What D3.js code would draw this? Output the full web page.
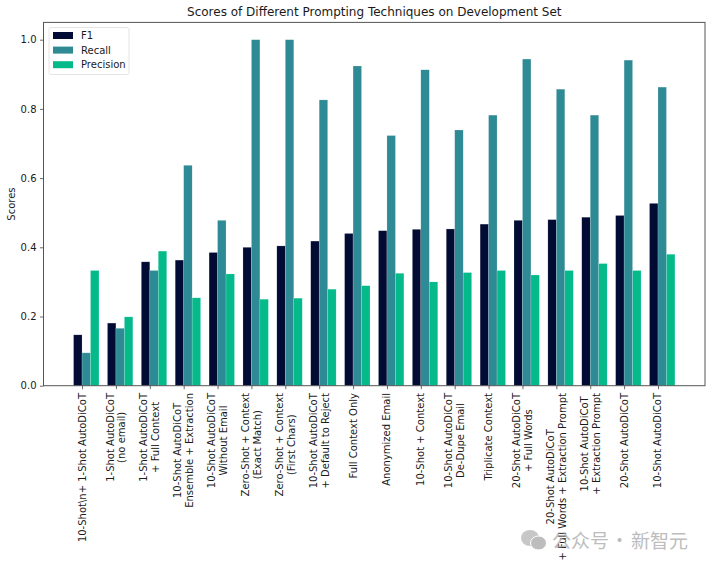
<!DOCTYPE html>
<html>
<head>
<meta charset="utf-8">
<script src="https://cdn.jsdelivr.net/npm/d3@7"></script>
<style>
    html, body { margin: 0; padding: 0; background: #fff; }
    svg { display: block; }
    text { font-family: "DejaVu Sans", sans-serif; fill: #1a1a1a; }
</style>
</head>
<body>
<div id="chart"></div>
<script>
// values
const categories = [
    "10-Shot\\n+ 1-Shot AutoDiCoT",
    "1-Shot AutoDiCoT\n(no email)",
    "1-Shot AutoDiCoT\n+ Full Context",
    "10-Shot AutoDiCoT\nEnsemble + Extraction",
    "10-Shot AutoDiCoT\nWithout Email",
    "Zero-Shot + Context\n(Exact Match)",
    "Zero-Shot + Context\n(First Chars)",
    "10-Shot AutoDiCoT\n+ Default to Reject",
    "Full Context Only",
    "Anonymized Email",
    "10-Shot + Context",
    "10-Shot AutoDiCoT\nDe-Dupe Email",
    "Triplicate Context",
    "20-Shot AutoDiCoT\n+ Full Words",
    "20-Shot AutoDiCoT\n+ Full Words + Extraction Prompt",
    "10-Shot AutoDiCoT\n+ Extraction Prompt",
    "20-Shot AutoDiCoT",
    "10-Shot AutoDiCoT"
];
const f1 = [0.147, 0.181, 0.358, 0.363, 0.385, 0.400, 0.404, 0.418, 0.440, 0.448, 0.452, 0.453, 0.467, 0.478, 0.480, 0.487, 0.492, 0.527];
const recall = [0.095, 0.166, 0.333, 0.637, 0.478, 1.000, 1.000, 0.826, 0.924, 0.723, 0.913, 0.739, 0.782, 0.944, 0.857, 0.782, 0.941, 0.863];
const precision = [0.333, 0.199, 0.389, 0.254, 0.323, 0.250, 0.253, 0.279, 0.289, 0.325, 0.300, 0.327, 0.333, 0.320, 0.333, 0.353, 0.333, 0.380];
const yTicks = [0, 0.2, 0.4, 0.6, 0.8, 1.0];
const seriesNames = ["F1", "Recall", "Precision"];
const seriesColors = ["#010b33", "#2e8a94", "#04ba8b"];
const seriesValues = [f1, recall, precision];

const width = 712, height = 568;
const margin = { top: 22.4, right: 7, bottom: 182.3, left: 43.5 };
const barWidth = 0.25;
const fontSize = "10px";

const svg = d3.select("#chart")
    .append("svg")
    .attr("width", width)
    .attr("height", height);

const x = d3.scaleLinear()
    .domain([-1.1375, 18.3875])
    .range([margin.left, width - margin.right]);

const y = d3.scaleLinear()
    .domain([0, 1.05])
    .range([height - margin.bottom, margin.top]);

// bars, each group starts one bar to the left of its tick
seriesValues.forEach((values, s) => {
    svg.append("g")
        .selectAll("rect")
        .data(values)
        .join("rect")
        .attr("x", (d, i) => x(i + (s - 1) * barWidth))
        .attr("width", x(barWidth) - x(0))
        .attr("y", d => y(d))
        .attr("height", d => y(0) - y(d))
        .attr("fill", seriesColors[s])
        .attr("stroke", "#ffffff")
        .attr("stroke-opacity", 0.35)
        .attr("stroke-width", 0.5);
});

// frame
svg.append("rect")
    .attr("x", margin.left)
    .attr("y", margin.top)
    .attr("width", width - margin.left - margin.right)
    .attr("height", height - margin.top - margin.bottom)
    .attr("fill", "none")
    .attr("stroke", "#555555")
    .attr("stroke-width", 1);

// axes
const yAxis = svg.append("g")
    .attr("transform", `translate(${margin.left},0)`)
    .call(d3.axisLeft(y).tickValues(yTicks).tickFormat(d3.format(".1f")).tickSize(3.5).tickPadding(3.5));
yAxis.select(".domain").remove();
yAxis.selectAll("line").attr("stroke", "#444444").attr("stroke-width", 0.8);
yAxis.selectAll("text").style("font-size", fontSize).style("font-family", '"DejaVu Sans"').attr("fill", "#1a1a1a");

const xAxis = svg.append("g")
    .attr("transform", `translate(0,${height - margin.bottom})`)
    .call(d3.axisBottom(x).tickValues(d3.range(categories.length)).tickFormat("").tickSize(3.5));
xAxis.select(".domain").remove();
xAxis.selectAll("line").attr("stroke", "#444444").attr("stroke-width", 0.8);

// x labels: rotated, lines centred on each other, block starts just under the axis
const lineStep = 11.7;
const labelTop = height - margin.bottom + 7.3;
categories.forEach((label, i) => {
    const lines = label.split("\n");
    const g = svg.append("g");
    const texts = lines.map((line, k) => g.append("text")
        .attr("text-anchor", "middle")
        .attr("dy", "0.35em")
        .attr("y", (k - (lines.length - 1) / 2) * lineStep)
        .style("font-size", fontSize)
        .text(line));
    const longest = d3.max(texts, t => t.node().getComputedTextLength());
    g.attr("transform", `translate(${x(i)},${labelTop + longest / 2}) rotate(-90)`);
});

// title and y label
svg.append("text")
    .attr("x", (margin.left + width - margin.right) / 2)
    .attr("y", 16)
    .attr("text-anchor", "middle")
    .style("font-size", "12px")
    .text("Scores of Different Prompting Techniques on Development Set");

svg.append("text")
    .attr("transform", `translate(15,${(margin.top + height - margin.bottom) / 2}) rotate(-90)`)
    .attr("text-anchor", "middle")
    .style("font-size", fontSize)
    .text("Scores");

// legend
const legend = svg.append("g").attr("transform", "translate(49,27.5)");
legend.append("rect")
    .attr("width", 80)
    .attr("height", 47)
    .attr("rx", 2)
    .attr("fill", "#ffffff")
    .attr("stroke", "#dddddd")
    .attr("stroke-width", 0.8);
seriesNames.forEach((name, i) => {
    legend.append("rect")
        .attr("x", 4)
        .attr("y", 4.5 + i * 14.6)
        .attr("width", 20)
        .attr("height", 7)
        .attr("fill", seriesColors[i]);
    legend.append("text")
        .attr("x", 32)
        .attr("y", 11.5 + i * 14.6)
        .style("font-size", fontSize)
        .text(name);
});

// watermark
const mark = svg.append("g").attr("opacity", 0.75);
mark.append("ellipse").attr("cx", 530).attr("cy", 538).attr("rx", 9).attr("ry", 8).attr("fill", "#b5b5b5");
mark.append("ellipse").attr("cx", 538.5).attr("cy", 543).attr("rx", 8).attr("ry", 7).attr("fill", "#a8a8a8").attr("stroke", "#ffffff").attr("stroke-width", 1);
const markText = mark.append("text")
    .attr("y", 548)
    .style("font-family", '"Noto Sans CJK SC"')
    .style("font-size", "19px")
    .style("fill", "#a8a8a8");
markText.append("tspan").attr("x", 552).text("公众号");
markText.append("tspan").attr("x", 610).text("·");
markText.append("tspan").attr("x", 631).text("新智元");
</script>
</body>
</html>
